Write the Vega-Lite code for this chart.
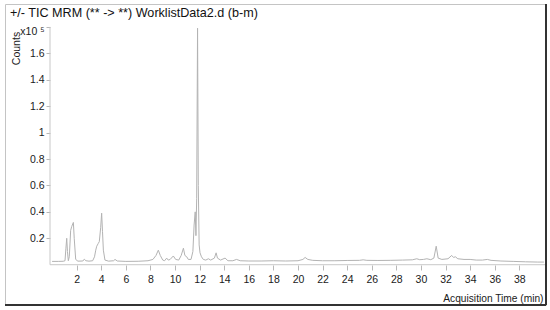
{
  "$schema": "https://vega.github.io/schema/vega-lite/v6.json",
  "width": 541,
  "height": 301,
  "autosize": "none",
  "padding": {"left": 5, "top": 4, "right": 4, "bottom": 5},
  "background": "white",
  "config": {
    "view": {"stroke": "#c4c4c4", "strokeWidth": 1},
    "font": "Liberation Sans",
    "axis": {"labelFont": "Liberation Sans", "titleFont": "Liberation Sans", "labelOverlap": false, "labelBound": false, "labelFlush": false}
  },
  "title": {
    "text": "+/- TIC MRM (** -> **) WorklistData2.d (b-m)",
    "anchor": "start",
    "frame": "group",
    "orient": "top",
    "font": "Liberation Sans",
    "fontSize": 12.6,
    "fontWeight": "normal",
    "color": "#111",
    "baseline": "alphabetic",
    "offset": 0,
    "dx": 5,
    "dy": 27
  },
  "datasets": {
    "tic": [
      {"t": 0.0, "v": 0.025}, {"t": 0.5, "v": 0.025}, {"t": 0.9, "v": 0.026}, {"t": 1.05, "v": 0.03},
      {"t": 1.12, "v": 0.12}, {"t": 1.19, "v": 0.2}, {"t": 1.25, "v": 0.1}, {"t": 1.32, "v": 0.03},
      {"t": 1.4, "v": 0.06}, {"t": 1.51, "v": 0.26}, {"t": 1.6, "v": 0.29}, {"t": 1.73, "v": 0.32},
      {"t": 1.8, "v": 0.2}, {"t": 1.92, "v": 0.04}, {"t": 2.1, "v": 0.027}, {"t": 2.5, "v": 0.028},
      {"t": 2.62, "v": 0.042}, {"t": 2.75, "v": 0.03}, {"t": 3.0, "v": 0.027}, {"t": 3.3, "v": 0.03},
      {"t": 3.45, "v": 0.06}, {"t": 3.55, "v": 0.11}, {"t": 3.63, "v": 0.14}, {"t": 3.75, "v": 0.16},
      {"t": 3.84, "v": 0.175}, {"t": 3.95, "v": 0.28}, {"t": 4.03, "v": 0.39}, {"t": 4.1, "v": 0.25},
      {"t": 4.17, "v": 0.11}, {"t": 4.3, "v": 0.035}, {"t": 4.6, "v": 0.027}, {"t": 5.0, "v": 0.03},
      {"t": 5.12, "v": 0.04}, {"t": 5.3, "v": 0.028}, {"t": 6.0, "v": 0.025}, {"t": 7.0, "v": 0.026},
      {"t": 7.8, "v": 0.03}, {"t": 8.2, "v": 0.04}, {"t": 8.45, "v": 0.07}, {"t": 8.64, "v": 0.11},
      {"t": 8.8, "v": 0.07}, {"t": 9.0, "v": 0.035}, {"t": 9.15, "v": 0.03}, {"t": 9.32, "v": 0.05},
      {"t": 9.45, "v": 0.035}, {"t": 9.6, "v": 0.04}, {"t": 9.86, "v": 0.066}, {"t": 10.05, "v": 0.04},
      {"t": 10.3, "v": 0.035}, {"t": 10.5, "v": 0.07}, {"t": 10.68, "v": 0.125}, {"t": 10.8, "v": 0.07},
      {"t": 10.95, "v": 0.06}, {"t": 11.08, "v": 0.04}, {"t": 11.3, "v": 0.04}, {"t": 11.45, "v": 0.1},
      {"t": 11.55, "v": 0.3}, {"t": 11.64, "v": 0.4}, {"t": 11.7, "v": 0.22}, {"t": 11.76, "v": 0.5},
      {"t": 11.83, "v": 1.79}, {"t": 11.89, "v": 0.6}, {"t": 11.96, "v": 0.15}, {"t": 12.03, "v": 0.09},
      {"t": 12.15, "v": 0.06}, {"t": 12.3, "v": 0.04}, {"t": 12.5, "v": 0.035}, {"t": 12.71, "v": 0.045},
      {"t": 12.9, "v": 0.035}, {"t": 13.2, "v": 0.05}, {"t": 13.34, "v": 0.09}, {"t": 13.45, "v": 0.05},
      {"t": 13.7, "v": 0.035}, {"t": 14.07, "v": 0.05}, {"t": 14.3, "v": 0.03}, {"t": 14.7, "v": 0.03},
      {"t": 15.0, "v": 0.04}, {"t": 15.3, "v": 0.03}, {"t": 16.0, "v": 0.028}, {"t": 17.0, "v": 0.028},
      {"t": 18.0, "v": 0.03}, {"t": 19.0, "v": 0.028}, {"t": 20.0, "v": 0.03}, {"t": 20.4, "v": 0.04},
      {"t": 20.58, "v": 0.055}, {"t": 20.8, "v": 0.04}, {"t": 21.2, "v": 0.033}, {"t": 22.0, "v": 0.03},
      {"t": 23.0, "v": 0.03}, {"t": 24.0, "v": 0.032}, {"t": 25.0, "v": 0.033}, {"t": 25.3, "v": 0.037},
      {"t": 25.6, "v": 0.033}, {"t": 26.5, "v": 0.032}, {"t": 27.5, "v": 0.033}, {"t": 28.5, "v": 0.035},
      {"t": 29.3, "v": 0.037}, {"t": 29.66, "v": 0.045}, {"t": 29.9, "v": 0.038}, {"t": 30.2, "v": 0.04},
      {"t": 30.48, "v": 0.045}, {"t": 30.8, "v": 0.038}, {"t": 31.05, "v": 0.05}, {"t": 31.24, "v": 0.14},
      {"t": 31.4, "v": 0.05}, {"t": 31.7, "v": 0.04}, {"t": 32.2, "v": 0.045}, {"t": 32.5, "v": 0.07},
      {"t": 32.65, "v": 0.055}, {"t": 32.8, "v": 0.06}, {"t": 33.0, "v": 0.045}, {"t": 33.5, "v": 0.04},
      {"t": 34.0, "v": 0.04}, {"t": 34.5, "v": 0.035}, {"t": 35.0, "v": 0.035}, {"t": 35.4, "v": 0.04},
      {"t": 35.7, "v": 0.033}, {"t": 36.5, "v": 0.028}, {"t": 37.5, "v": 0.025}, {"t": 38.5, "v": 0.022},
      {"t": 39.5, "v": 0.02}, {"t": 40.0, "v": 0.02}
    ],
    "axislines": [
      {"x1": -0.17, "x2": -0.17, "y1": 0, "y2": 1.8, "kind": "yaxis"},
      {"x1": -0.17, "x2": 40.17, "y1": 0, "y2": 0, "kind": "xaxis"}
    ],
    "frame": [
      {"x1": 40.17, "x2": 40.17, "y1": -0.305, "y2": 1.9735},
      {"x1": -3.83, "x2": 40.17, "y1": -0.305, "y2": -0.305}
    ]
  },
  "layer": [
    {
      "data": {"name": "tic"},
      "mark": {"type": "line", "color": "#b3b3b3", "strokeWidth": 1, "interpolate": "linear"},
      "encoding": {
        "x": {
          "field": "t", "type": "quantitative",
          "scale": {"domain": [-3.83, 40.17], "nice": false, "zero": false},
          "axis": {
            "orient": "bottom", "offset": -40, "domain": false, "grid": false,
            "values": [2, 4, 6, 8, 10, 12, 14, 16, 18, 20, 22, 24, 26, 28, 30, 32, 34, 36, 38],
            "tickCount": 40,
            "labelOverlap": false, "labelBound": false, "labelFlush": false,
            "tickSize": 5, "tickColor": "#b8b8b8", "labelPadding": 4,
            "labelFontSize": 10.5, "labelColor": "#1a1a1a",
            "title": "Acquisition Time (min)", "titleFontSize": 10.2, "titleFontWeight": "normal",
            "titleColor": "#1a1a1a", "titleAnchor": "end", "titleAlign": "right",
            "titleX": 538, "titleY": 36, "titleBaseline": "alphabetic"
          }
        },
        "y": {
          "field": "v", "type": "quantitative",
          "scale": {"domain": [-0.305, 1.9735], "nice": false, "zero": false},
          "axis": {
            "orient": "left", "offset": -45, "domain": false, "grid": false,
            "values": [0.2, 0.4, 0.6, 0.8, 1, 1.2, 1.4, 1.6, 1.8],
            "tickCount": 20,
            "labelExpr": "datum.value >= 1.79 ? 'x10 ⁵' : (datum.value == 1 ? '1' : datum.label)",
            "labelOffset": {"condition": {"test": "datum.value >= 1.79", "value": 5}, "value": 0},
            "labelOverlap": false, "labelBound": false, "labelFlush": false,
            "tickSize": 4, "tickColor": "#b8b8b8", "labelPadding": 2,
            "labelFontSize": 10.5, "labelColor": "#1a1a1a",
            "title": "Counts", "titleFontSize": 10.5, "titleFontWeight": "normal",
            "titleColor": "#1a1a1a", "titleAngle": -90, "titleAlign": "center",
            "titleX": -31, "titleY": 44, "titleBaseline": "alphabetic"
          }
        }
      }
    },
    {
      "data": {"name": "axislines"},
      "mark": {"type": "rule", "color": "#c8c8c8", "strokeWidth": 1},
      "encoding": {
        "x": {"field": "x1", "type": "quantitative"},
        "x2": {"field": "x2"},
        "y": {"field": "y1", "type": "quantitative"},
        "y2": {"field": "y2"}
      }
    },
    {
      "data": {"name": "frame"},
      "mark": {"type": "rule", "color": "#333333", "strokeWidth": 2},
      "encoding": {
        "x": {"field": "x1", "type": "quantitative"},
        "x2": {"field": "x2"},
        "y": {"field": "y1", "type": "quantitative"},
        "y2": {"field": "y2"}
      }
    }
  ]
}
